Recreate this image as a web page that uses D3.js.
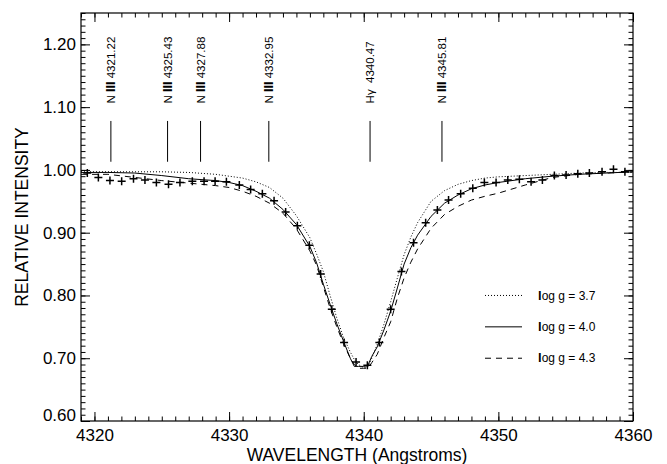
<!DOCTYPE html>
<html>
<head>
<meta charset="utf-8">
<script src="https://cdn.jsdelivr.net/npm/d3@7"></script>
<style>
    body { margin: 0; background: white; }
    text { font-family: "Liberation Sans", Arial, Helvetica, sans-serif; fill: black; }
</style>
</head>
<body>
<div class="board"></div>
<script>
var margin = { top: 13, right: 34, bottom: 43, left: 81 },
    width = 667 - margin.left - margin.right,
    height = 464 - margin.top - margin.bottom;

// model grid (Angstroms) and the three model profiles
var modelWave = [4319, 4321, 4323, 4325, 4327, 4329, 4330, 4331, 4332, 4333, 4334, 4335, 4336, 4336.5,
    4337, 4337.5, 4338, 4338.5, 4339, 4339.3, 4339.6, 4340, 4340.3, 4340.6, 4341, 4341.5, 4342, 4342.5,
    4343, 4343.5, 4344, 4345, 4346, 4347, 4348, 4349, 4350, 4352, 4354, 4356, 4358, 4360]

var logg37 = [0.997, 0.997, 0.997, 0.997, 0.996, 0.993, 0.990, 0.987, 0.981, 0.972, 0.955, 0.927, 0.892, 0.866,
    0.838, 0.800, 0.764, 0.733, 0.710, 0.698, 0.690, 0.685, 0.686, 0.700, 0.722, 0.754, 0.790, 0.828,
    0.865, 0.893, 0.916, 0.950, 0.967, 0.977, 0.983, 0.987, 0.989, 0.991, 0.993, 0.995, 0.996, 0.996]

var logg40 = [0.996, 0.996, 0.995, 0.991, 0.986, 0.983, 0.980, 0.975, 0.966, 0.955, 0.937, 0.913, 0.878, 0.852,
    0.818, 0.786, 0.755, 0.727, 0.700, 0.687, 0.687, 0.687, 0.688, 0.703, 0.718, 0.745, 0.775, 0.812,
    0.850, 0.876, 0.896, 0.926, 0.947, 0.960, 0.970, 0.976, 0.980, 0.986, 0.990, 0.993, 0.995, 0.997]

var logg43 = [0.993, 0.993, 0.988, 0.983, 0.979, 0.975, 0.972, 0.966, 0.958, 0.947, 0.931, 0.906, 0.871, 0.848,
    0.814, 0.780, 0.750, 0.723, 0.700, 0.690, 0.684, 0.684, 0.684, 0.693, 0.706, 0.733, 0.758, 0.796,
    0.828, 0.853, 0.874, 0.907, 0.929, 0.942, 0.952, 0.958, 0.963, 0.976, 0.988, 0.993, 0.995, 0.997]

// observed spectrum
var obsWave = [4319.47, 4320.29, 4321.15, 4322.02, 4322.9, 4323.75, 4324.6, 4325.5, 4326.35, 4327.27,
    4328.14, 4328.96, 4329.8, 4330.76, 4331.6, 4332.47, 4333.34, 4334.2, 4335.07, 4335.96, 4336.8,
    4337.63, 4338.54, 4339.43, 4340.27, 4341.16, 4342.0, 4342.8, 4343.7, 4344.6, 4345.47, 4346.3,
    4347.2, 4348.1, 4348.96, 4349.83, 4350.7, 4351.56, 4352.43, 4353.27, 4354.16, 4355.03, 4355.9,
    4356.76, 4357.7, 4358.55, 4359.4]
var obsFlux = [0.995, 0.988, 0.983, 0.982, 0.986, 0.984, 0.980, 0.977, 0.980, 0.982,
    0.982, 0.982, 0.981, 0.976, 0.969, 0.962, 0.951, 0.933, 0.911, 0.880, 0.834,
    0.778, 0.725, 0.694, 0.689, 0.725, 0.778, 0.838, 0.884, 0.916, 0.936, 0.952,
    0.962, 0.971, 0.980, 0.980, 0.984, 0.985, 0.981, 0.984, 0.991, 0.992, 0.994,
    0.995, 0.997, 1.001, 0.997]

var lineWaves = [4321.22, 4325.43, 4327.88, 4332.95, 4340.47, 4345.81]
var lineIons = ["N III", "N III", "N III", "N III", "Hγ", "N III"]

var legendLabels = ["log g = 3.7", "log g = 4.0", "log g = 4.3"]
var legendDash = ["1,2", null, "6,5"]

var xTicks = [4320, 4330, 4340, 4350, 4360]
var yTicks = [0.6, 0.7, 0.8, 0.9, 1.0, 1.1, 1.2]

var svg = d3.select(".board")
    .append("svg")
    .attr("width", 667)
    .attr("height", 464)
    .append("g")
    .attr("transform", `translate(${margin.left}, ${margin.top})`)

let x = d3.scaleLinear().domain([4319, 4360]).range([0, width])
let y = d3.scaleLinear().domain([0.6, 1.25]).range([height, 0])

// axes, ticks pointing inward
function styleAxis(g) {
    g.select(".domain").remove()
    g.selectAll("line").attr("stroke", "black").attr("stroke-width", 1)
}

svg.append("g")
    .attr("transform", `translate(0, ${height})`)
    .call(d3.axisBottom(x).tickValues(d3.range(4319, 4361)).tickSize(-4.5).tickFormat(""))
    .call(styleAxis)
svg.append("g")
    .attr("transform", `translate(0, ${height})`)
    .call(d3.axisBottom(x).tickValues(xTicks).tickSize(-9).tickPadding(8).tickFormat(d3.format("d")))
    .call(styleAxis)
    .selectAll("text").attr("font-size", 17)
svg.append("g")
    .call(d3.axisTop(x).tickValues(d3.range(4319, 4361)).tickSize(-4.5).tickFormat(""))
    .call(styleAxis)
svg.append("g")
    .call(d3.axisTop(x).tickValues(xTicks).tickSize(-9).tickFormat(""))
    .call(styleAxis)

svg.append("g")
    .call(d3.axisLeft(y).tickValues(d3.range(60, 126).map(d => d / 100)).tickSize(-4.5).tickFormat(""))
    .call(styleAxis)
svg.append("g")
    .call(d3.axisLeft(y).tickValues(yTicks).tickSize(-9).tickPadding(5).tickFormat(d3.format(".2f")))
    .call(styleAxis)
    .selectAll("text")
    .attr("font-size", 17)
    .attr("y", d => d == 0.6 ? -6 : 0)
svg.append("g")
    .attr("transform", `translate(${width}, 0)`)
    .call(d3.axisRight(y).tickValues(d3.range(60, 126).map(d => d / 100)).tickSize(-4.5).tickFormat(""))
    .call(styleAxis)
svg.append("g")
    .attr("transform", `translate(${width}, 0)`)
    .call(d3.axisRight(y).tickValues(yTicks).tickSize(-9).tickFormat(""))
    .call(styleAxis)

svg.append("rect")
    .attr("width", width)
    .attr("height", height)
    .attr("fill", "none")
    .attr("stroke", "black")
    .attr("stroke-width", 1.2)

svg.append("text")
    .attr("x", width / 2)
    .attr("y", height + 40)
    .attr("text-anchor", "middle")
    .attr("font-size", 17.5)
    .text("WAVELENGTH (Angstroms)")

svg.append("text")
    .attr("transform", `translate(${28 - margin.left}, ${height / 2}) rotate(-90)`)
    .attr("text-anchor", "middle")
    .attr("font-size", 17.5)
    .text("RELATIVE INTENSITY")

// line identifications
svg.selectAll(".lineMark")
    .data(lineWaves)
    .enter()
    .append("line")
    .classed("lineMark", true)
    .attr("stroke", "black")
    .attr("x1", d => x(d))
    .attr("x2", d => x(d))
    .attr("y1", y(1.078))
    .attr("y2", y(1.013))

let ids = svg.selectAll(".lineId")
    .data(lineWaves)
    .enter()
    .append("text")
    .classed("lineId", true)
    .attr("font-size", 11.5)
    .attr("transform", d => `translate(${x(d) + 4}, ${y(1.106)}) rotate(-90)`)

ids.each(function (d, i) {
    let t = d3.select(this)
    if (lineIons[i] == "Hγ") {
        t.append("tspan").text("Hγ\u00a0\u00a0" + d.toFixed(2))
    } else {
        t.append("tspan").text("N ")
        t.append("tspan").attr("font-weight", "bold").attr("font-size", 12.5).text("III")
        t.append("tspan").text(" " + d.toFixed(2))
    }
})

// model profiles
let series = [logg37, logg40, logg43]
series.forEach((s, i) => {
    let line = d3.line()
        .x((d, j) => x(modelWave[j]))
        .y(d => y(d))
    svg.append("path")
        .datum(s)
        .attr("fill", "none")
        .attr("stroke", "black")
        .attr("stroke-width", 1)
        .attr("stroke-dasharray", legendDash[i])
        .attr("d", line)
})

// observed points as plus signs
svg.selectAll(".obs")
    .data(obsWave)
    .enter()
    .append("path")
    .classed("obs", true)
    .attr("stroke", "black")
    .attr("stroke-width", 1.5)
    .attr("d", (d, i) => `M${x(d) - 4},${y(obsFlux[i])}h8M${x(d)},${y(obsFlux[i]) - 4}v8`)

// legend
let legendY = d3.scaleLinear().domain([0, 2]).range([y(0.80), y(0.70)])

legendLabels.forEach((lab, i) => {
    svg.append("line")
        .attr("x1", x(4319) + 404)
        .attr("x2", x(4319) + 441)
        .attr("y1", legendY(i))
        .attr("y2", legendY(i))
        .attr("stroke", "black")
        .attr("stroke-dasharray", legendDash[i])
    let t = svg.append("text")
        .attr("x", x(4319) + 457)
        .attr("y", legendY(i))
        .attr("dy", "0.35em")
        .attr("font-size", 12)
    t.append("tspan").attr("font-weight", "bold").attr("font-size", 13).text("l")
    t.append("tspan").text(lab.slice(1))
})
</script>
</body>
</html>
